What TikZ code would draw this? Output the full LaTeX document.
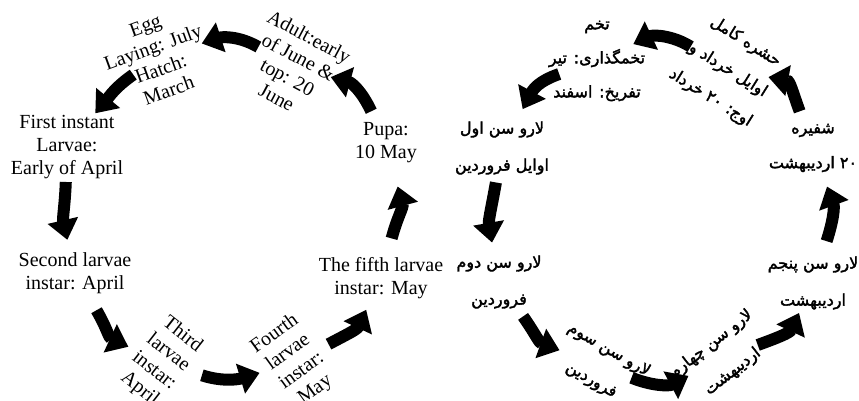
\documentclass[tikz,border=0pt]{standalone}
\usepackage{fontspec}
\setmainfont{Liberation Serif}
\newfontfamily\farsi[Script=Arabic, FakeBold=2]{DejaVu Sans}
\TeXXeTstate=1
\usetikzlibrary{arrows.meta}
\newcommand{\rl}[1]{\beginR #1\endR}

\tikzset{
  stage/.style={align=center, inner sep=0pt, font=\fontsize{20}{23}\selectfont},
  fstage/.style={align=center, inner sep=0pt, font=\farsi\fontsize{16}{37}\selectfont},
  cyc/.style={line width=12pt, -{Triangle[length=20pt,width=30pt]}}
}

\begin{document}
\begin{tikzpicture}[x=1pt,y=-1pt]
\useasboundingbox (0,0) rectangle (859,401);

% english cycle
\node[stage, rotate=20] (egg) at (157,58) {Egg\\Laying: July\\Hatch:\\March};
\node[stage] (first) at (67,147) {First instant\\Larvae:\\Early of April};
\node[stage] (second) at (75,273) {Second larvae\\instar: April};
\node[stage, rotate=-38] (third) at (161,362) {Third\\larvae\\instar:\\April};
\node[stage, rotate=36] (fourth) at (295,362) {Fourth\\larvae\\instar:\\May};
\node[stage] (fifth) at (381,278) {The fifth larvae\\instar: May};
\node[stage] (pupa) at (386,143) {Pupa:\\10 May};
\node[stage, rotate=-28] (adult) at (293,67) {Adult:early\\of June \&\\top: 20\\June};

% from/to/out/in/shorten start/shorten end
\foreach \a/\b/\o/\i/\s/\e [evaluate=\s as \sd using \s+22, evaluate=\e as \ed using \e+22] in
  {egg/first/215/50/29/44, first/second/268/103/35/34, second/third/300/155/43/36,
   third/fourth/342/197/43/37, fourth/fifth/28/245/38/35, fifth/pupa/75/285/41/45,
   pupa/adult/115/345/35/39, adult/egg/150/18/40/47}
  \draw[cyc, shorten <=\s pt, shorten >=\e pt] (\a.center)
    to[out=\o, in=\i, out distance=\sd pt, in distance=\ed pt] (\b.center);

% persian cycle
\node[fstage, font=\farsi\fontsize{16}{34}\selectfont] (pegg) at (597,61)
  {\rl{تخم}\\\rl{تخمگذاری: تیر}\\\rl{تفریخ: اسفند}};
\node[fstage] (pfirst) at (502,148) {\rl{لارو سن اول}\\\rl{اوایل فروردین}};
\node[fstage] (psecond) at (499,282) {\rl{لارو سن دوم}\\\rl{فروردین}};
\node[fstage, rotate=-30, font=\farsi\fontsize{16}{35}\selectfont] (pthird) at (600,365)
  {\rl{لارو سن سوم}\\\rl{فروردین}};
\node[fstage, rotate=38, font=\farsi\fontsize{16}{35}\selectfont] (pfourth) at (722,358)
  {\rl{لارو سن چهارم}\\\rl{اردیبهشت}};
\node[fstage] (pfifth) at (813,283) {\rl{لارو سن پنجم}\\\rl{اردیبهشت}};
\node[fstage, font=\farsi\fontsize{16}{35}\selectfont] (ppupa) at (813,148)
  {\rl{شفیره}\\\rl{\beginL ۲۰\endL{} اردیبهشت}};
\node[fstage, rotate=-32, font=\farsi\fontsize{16}{33}\selectfont] (padult) at (728,70)
  {\rl{حشره کامل}\\\rl{اوایل خرداد و}\\\rl{اوج: \beginL ۲۰\endL{} خرداد}};

\foreach \a/\b/\o/\i/\s/\e [evaluate=\s as \sd using \s+22, evaluate=\e as \ed using \e+22] in
  {pegg/pfirst/199/62/40/44, pfirst/psecond/260/100/35/40, psecond/pthird/305/160/42/43,
   pthird/pfourth/338/208/34/38, pfourth/pfifth/20/245/38/33, pfifth/ppupa/72/290/44/41,
   ppupa/padult/110/350/39/41, padult/pegg/148/25/44/40}
  \draw[cyc, shorten <=\s pt, shorten >=\e pt] (\a.center)
    to[out=\o, in=\i, out distance=\sd pt, in distance=\ed pt] (\b.center);
\end{tikzpicture}
\end{document}
